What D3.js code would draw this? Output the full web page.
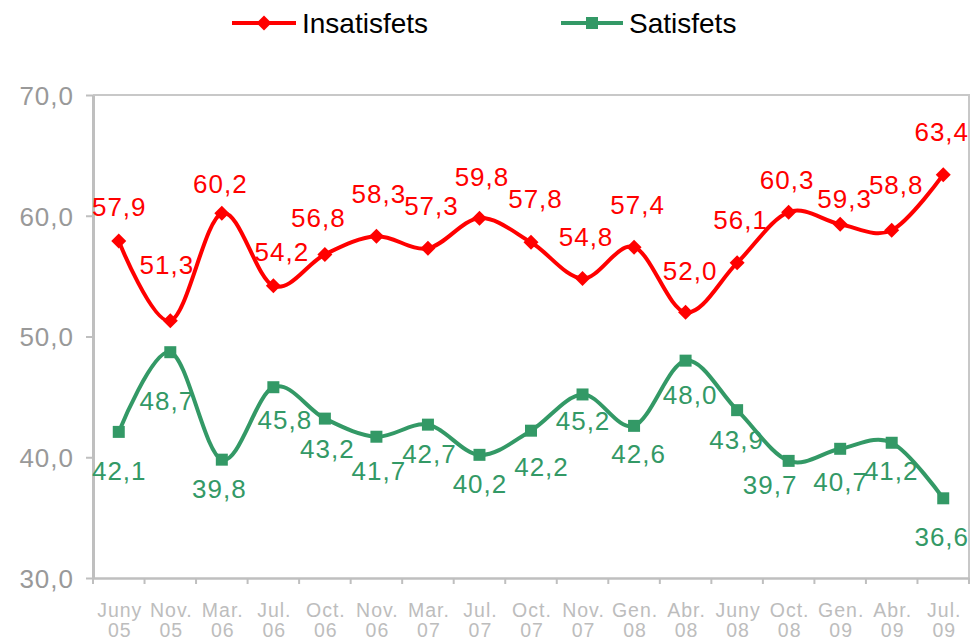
<!DOCTYPE html>
<html>
<head>
<meta charset="utf-8">
<script src="https://cdn.jsdelivr.net/npm/d3@7"></script>
<style>
  html, body { margin: 0; padding: 0; background: #ffffff; }
  svg { display: block; }
</style>
</head>
<body>
<script>
// ---- data ----
const categories = ["Juny 05","Nov. 05","Mar. 06","Jul. 06","Oct. 06","Nov. 06","Mar. 07","Jul. 07","Oct. 07","Nov. 07","Gen. 08","Abr. 08","Juny 08","Oct. 08","Gen. 09","Abr. 09","Jul. 09"];
const insatisfets = [57.9, 51.3, 60.2, 54.2, 56.8, 58.3, 57.3, 59.8, 57.8, 54.8, 57.4, 52.0, 56.1, 60.3, 59.3, 58.8, 63.4];
const satisfets   = [42.1, 48.7, 39.8, 45.8, 43.2, 41.7, 42.7, 40.2, 42.2, 45.2, 42.6, 48.0, 43.9, 39.7, 40.7, 41.2, 36.6];
const yTicks = [30, 40, 50, 60, 70];
const seriesNames = ["Insatisfets", "Satisfets"];

// ---- label nudges (layout only) ----
const insLabelDx = [0,-4,-2,8,-7,2,3,2,4,3,3,4,3,-2,4,4,-2];
const insLabelDy = [-25,-47,-20,-25,-27,-33,-33,-32,-34,-33,-33,-32,-34,-23,-16,-36,-34];
const satLabelDx = [0,-4,-3,11,2,2,1,0,10,0,4,4,-1,-19,0,-1,-2];
const satLabelDy = [48,58,38,42,39,43,38,38,45,36,37,43,39,33,42,37,48];

(function () {
const W = 972, H = 643;
const pL = 93, pR = 969, pT = 95, pB = 578;
const RED = "#ff0000", GREEN = "#339966";
const FONT = "'Liberation Sans', Arial, sans-serif";

const fmt = v => d3.format(".1f")(v).replace(".", ",");

const svg = d3.select("body").append("svg").attr("width", W).attr("height", H)
  .style("font-family", FONT);

const x = d3.scaleBand().domain(categories).range([pL, pR]).padding(0);
const y = d3.scaleLinear().domain([30, 70]).range([pB, pT]);
const cx = c => x(c) + x.bandwidth() / 2;

// frame top/right
svg.append("path")
  .attr("d", `M${pL},${y(70)}H${pR}V${pB}`)
  .attr("fill", "none").attr("stroke", "#c8c8c8").attr("stroke-width", 2);

// y axis
const yAxis = svg.append("g").attr("transform", `translate(${pL},0)`)
  .call(d3.axisLeft(y).tickValues(yTicks).tickSize(7).tickSizeOuter(0).tickPadding(12).tickFormat(fmt));
yAxis.select(".domain").attr("stroke", "#bfbfbf").attr("stroke-width", 3);
yAxis.selectAll(".tick line").attr("stroke", "#bfbfbf").attr("stroke-width", 2);
yAxis.selectAll(".tick text").attr("fill", "#999999").attr("font-size", 26)
  .attr("font-family", FONT).style("letter-spacing", "1px").attr("dy", "0.36em");

// x axis
const xAxis = svg.append("g").attr("transform", `translate(0,${pB})`)
  .call(d3.axisBottom(x).tickSize(0).tickSizeOuter(0).tickFormat(""));
xAxis.select(".domain").attr("stroke", "#bfbfbf").attr("stroke-width", 2.5);
xAxis.selectAll(".tick text").remove();
const bounds = categories.map(c => x(c)).concat([x.range()[1]]);
xAxis.selectAll("line.bt").data(bounds).enter().append("line").attr("class", "bt")
  .attr("x1", d => d).attr("x2", d => d).attr("y1", 0).attr("y2", 6)
  .attr("stroke", "#bfbfbf").attr("stroke-width", 2);
const xl = xAxis.selectAll("text.xl").data(categories).enter().append("text").attr("class", "xl")
  .attr("text-anchor", "middle").attr("fill", "#bdbdbd").attr("font-size", 19.5)
  .attr("font-family", FONT).style("letter-spacing", "1px");
xl.append("tspan").attr("x", d => cx(d) + 1).attr("y", 38.5).text(d => d.split(" ")[0]);
xl.append("tspan").attr("x", d => cx(d) + 1).attr("y", 58.5).text(d => d.split(" ")[1]);

// lines
const line = d3.line().x((d, i) => cx(categories[i])).y(d => y(d)).curve(d3.curveCardinal.tension(0));

function drawSeries(values, color, marker, dxs, dys) {
  const g = svg.append("g");
  g.append("path").datum(values).attr("d", line).attr("fill", "none")
    .attr("stroke", color).attr("stroke-width", 4).attr("stroke-linejoin", "round");
  g.selectAll("path.m").data(values).enter().append("path").attr("class", "m")
    .attr("transform", (d, i) => `translate(${cx(categories[i])},${y(d)})`)
    .attr("d", marker).attr("fill", color);
  g.selectAll("text.lbl").data(values).enter().append("text").attr("class", "lbl")
    .attr("x", (d, i) => cx(categories[i]) + dxs[i] + 0.5)
    .attr("y", (d, i) => y(d) + dys[i])
    .attr("text-anchor", "middle").attr("fill", color).attr("font-size", 26)
    .style("letter-spacing", "1px").text(d => fmt(d));
}
const diamond = "M0,-7.5L7.5,0L0,7.5L-7.5,0Z";
const square = "M-6,-6H6V6H-6Z";

drawSeries(insatisfets, RED, diamond, insLabelDx, insLabelDy);
drawSeries(satisfets, GREEN, square, satLabelDx, satLabelDy);

// legend
const legend = [
  {name: seriesNames[0], color: RED, marker: diamond, x0: 232, x1: 296, tx: 302},
  {name: seriesNames[1], color: GREEN, marker: square, x0: 561, x1: 623, tx: 629}
];
const lg = svg.append("g").selectAll("g").data(legend).enter().append("g");
lg.append("line").attr("x1", d => d.x0).attr("x2", d => d.x1).attr("y1", 23).attr("y2", 23)
  .attr("stroke", d => d.color).attr("stroke-width", 4);
lg.append("path").attr("d", d => d.marker)
  .attr("transform", d => `translate(${(d.x0 + d.x1) / 2},23)`).attr("fill", d => d.color);
lg.append("text").attr("x", d => d.tx).attr("y", 33).attr("font-size", 28).attr("fill", "#000")
  .text(d => d.name);
})();
</script>
</body>
</html>
